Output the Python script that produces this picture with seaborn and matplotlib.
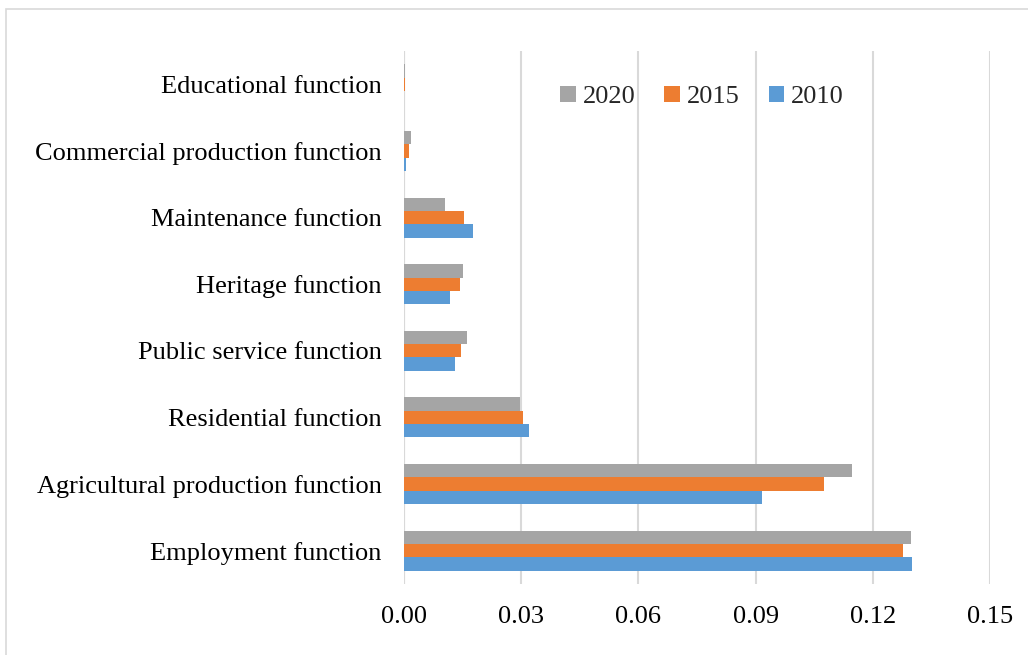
import matplotlib
matplotlib.use("Agg")
import matplotlib.pyplot as plt
import seaborn as sns
import pandas as pd
from matplotlib.patches import Rectangle

categories = ["Educational function", "Commercial production function",
              "Maintenance function", "Heritage function",
              "Public service function", "Residential function",
              "Agricultural production function", "Employment function"]
years = ["2020", "2015", "2010"]
v2020 = [0.0003, 0.0018, 0.0106, 0.0151, 0.0162, 0.0297, 0.1146, 0.1298]
v2015 = [0.0002, 0.0013, 0.0153, 0.0143, 0.0145, 0.0305, 0.1076, 0.1278]
v2010 = [0.0001, 0.0005, 0.0177, 0.0119, 0.0130, 0.0320, 0.0917, 0.1301]
colors = ["#A5A5A5", "#ED7D31", "#5B9BD5"]
xticks = [0.00, 0.03, 0.06, 0.09, 0.12, 0.15]

rows = []
for yr, vals in zip(years, [v2020, v2015, v2010]):
    for c, v in zip(categories, vals):
        rows.append({"category": c, "year": yr, "value": v})
df = pd.DataFrame(rows)

sns.set_theme(style="white")
plt.rcParams["font.family"] = ["Liberation Serif", "DejaVu Serif"]

fig = plt.figure(figsize=(10.28, 6.55), dpi=100)
ax = fig.add_axes([404 / 1028, 1 - 584 / 655, (990 - 404) / 1028, (584 - 51) / 655])

sns.barplot(data=df, y="category", x="value", hue="year", order=categories,
            hue_order=years, palette=colors, saturation=1, width=0.6,
            orient="h", ax=ax, edgecolor="none", errorbar=None)

ax.set_xlim(0, 0.15)
ax.set_xticks(xticks)
ax.set_xticklabels([f"{t:.2f}" for t in xticks], fontsize=19)
ax.tick_params(axis="y", labelsize=19, length=0, pad=16)
ax.tick_params(axis="x", length=0, pad=16)
ax.set_xlabel("")
ax.set_ylabel("")
ax.grid(axis="x", color="#D9D9D9", linewidth=1.5)
ax.set_axisbelow(True)
for s in ax.spines.values():
    s.set_visible(False)
ax.axvline(0, color="#D9D9D9", linewidth=1.5, zorder=0)

for lbl in ax.get_yticklabels():
    lbl.set_color("black")
for lbl in ax.get_xticklabels():
    lbl.set_color("black")

handles, labels = ax.get_legend_handles_labels()
ax.legend(handles, labels, ncol=3, frameon=False, fontsize=19,
          loc="center", bbox_to_anchor=((702 - 404) / 586, 1 - (97 - 51) / 533),
          handlelength=0.6, handleheight=0.6, handletextpad=0.25, columnspacing=1.1)

fig.patches.append(Rectangle((6 / 1028, -0.1), 1.2, 1 - 9 / 655 + 0.1,
                             transform=fig.transFigure, fill=False,
                             edgecolor="#D9D9D9", linewidth=1.2))

fig.savefig("out.png", dpi=100)
